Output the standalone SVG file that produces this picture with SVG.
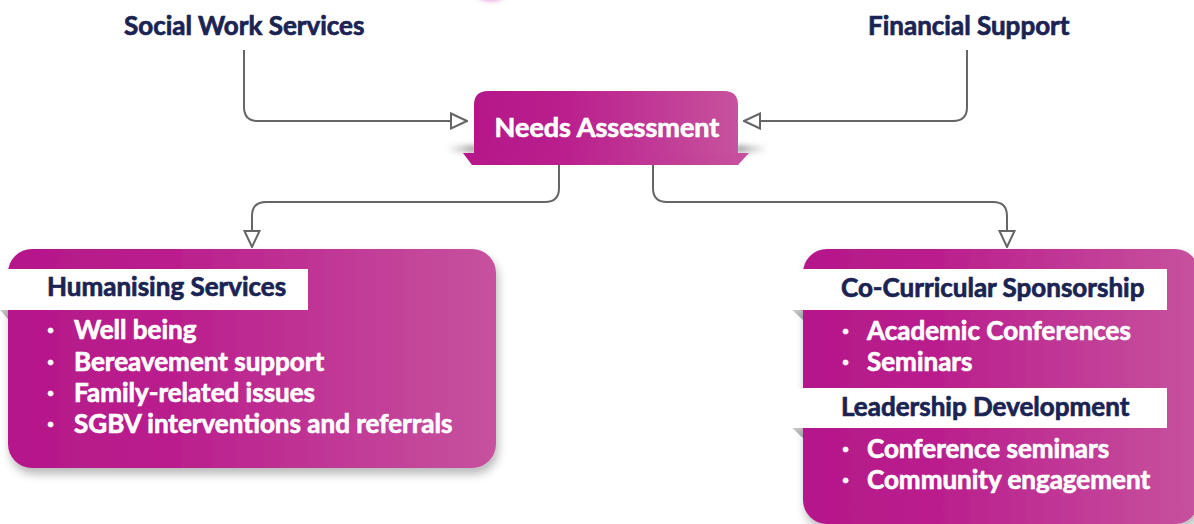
<svg xmlns="http://www.w3.org/2000/svg" width="1194" height="524" viewBox="0 0 1194 524">
  <defs>
    <linearGradient id="magenta" x1="0" y1="0" x2="1" y2="0">
      <stop offset="0" stop-color="#b5178a"/>
      <stop offset="0.35" stop-color="#ba1f8d"/>
      <stop offset="1" stop-color="#c7529e"/>
    </linearGradient>
    <linearGradient id="fold" x1="0" y1="0" x2="1" y2="1">
      <stop offset="0" stop-color="#d4d4d4"/>
      <stop offset="1" stop-color="#9a9a9a"/>
    </linearGradient>
    <linearGradient id="shade-left" x1="0" y1="0" x2="1" y2="0">
      <stop offset="0" stop-color="#bbbbbb" stop-opacity="0"/>
      <stop offset="1" stop-color="#9d9d9d"/>
    </linearGradient>
    <linearGradient id="shade-right" x1="0" y1="0" x2="1" y2="0">
      <stop offset="0" stop-color="#9d9d9d"/>
      <stop offset="1" stop-color="#bbbbbb" stop-opacity="0"/>
    </linearGradient>
    <filter id="drop" x="-10%" y="-10%" width="125%" height="130%">
      <feDropShadow dx="2" dy="6" stdDeviation="5" flood-color="#000" flood-opacity="0.28"/>
    </filter>
    <filter id="soft" x="-50%" y="-200%" width="200%" height="500%">
      <feGaussianBlur stdDeviation="2.5"/>
    </filter>
    <marker id="open-arrow" viewBox="0 0 18 18" refX="17" refY="9" markerWidth="18" markerHeight="18" markerUnits="userSpaceOnUse" orient="auto">
      <path d="M1,1.5 L17,9 L1,16.5 Z" fill="#fff" stroke="#666" stroke-width="2" stroke-linejoin="miter"/>
    </marker>
    <style>
      .label { font-family: Lato, "Liberation Sans", sans-serif; font-weight: 700; font-size: 26px; stroke-width: 0.7px; paint-order: stroke; }
      .navy { fill: #1a2352; stroke: #1a2352; }
      .white { fill: #ffffff; stroke: #ffffff; }
      .wire { fill: none; stroke: #666666; stroke-width: 2; marker-end: url(#open-arrow); }
      .tab { fill: #ffffff; }
      .fold { fill: url(#fold); }
    </style>
  </defs>

  <rect width="1194" height="524" fill="#ffffff"/>

  <!-- sliver of a shape above the frame -->
  <ellipse cx="491" cy="-9" rx="16" ry="10" fill="#e89ad6" filter="url(#soft)"/>

  <!-- top source labels -->
  <g id="social-work">
    <text class="label navy" x="124" y="35">Social Work Services</text>
  </g>
  <g id="financial-support">
    <text class="label navy" x="868" y="35">Financial Support</text>
  </g>

  <!-- connectors -->
  <g id="connectors">
    <path class="wire" d="M244,50 V107 Q244,121 258,121 H467"/>
    <path class="wire" d="M967,50 V107 Q967,121 953,121 H744"/>
    <path class="wire" d="M559,165 V188 Q559,202 545,202 H266 Q252,202 252,216 V247"/>
    <path class="wire" d="M653,165 V188 Q653,202 667,202 H993 Q1007,202 1007,216 V247"/>
  </g>

  <!-- central node -->
  <g id="needs-assessment">
    <rect x="446" y="145" width="30" height="8" fill="url(#shade-left)" filter="url(#soft)"/>
    <rect x="736" y="145" width="32" height="8" fill="url(#shade-right)" filter="url(#soft)"/>
    <path d="M463,153 H749 L738,165 H472 Z" fill="url(#magenta)"/>
    <path d="M474,154 V105 Q474,91 488,91 H724 Q738,91 738,105 V154 Z" fill="url(#magenta)"/>
    <text class="label white" x="607" y="137" text-anchor="middle" style="font-size:27px">Needs Assessment</text>
  </g>

  <!-- left card -->
  <g id="humanising-services">
    <rect x="8" y="249" width="488" height="219" rx="24" fill="url(#magenta)" filter="url(#drop)"/>
    <rect class="tab" x="0" y="269" width="308" height="41"/>
    <path class="fold" d="M0,310 H8 V319 Z"/>
    <text class="label navy" x="47" y="296">Humanising Services</text>
    <g class="label white">
      <text x="47" y="339">·</text><text x="74" y="339">Well being</text>
      <text x="47" y="370.5">·</text><text x="74" y="370.5">Bereavement support</text>
      <text x="47" y="402">·</text><text x="74" y="402">Family-related issues</text>
      <text x="47" y="433">·</text><text x="74" y="433">SGBV interventions and referrals</text>
    </g>
  </g>

  <!-- right card -->
  <g id="sponsorship-leadership">
    <rect x="803" y="249" width="396" height="275" rx="24" fill="url(#magenta)" filter="url(#drop)"/>
    <rect class="tab" x="792" y="269" width="375" height="41"/>
    <path class="fold" d="M792,310 H803 V320 Z"/>
    <text class="label navy" x="841" y="297">Co-Curricular Sponsorship</text>
    <g class="label white">
      <text x="842" y="340">·</text><text x="867" y="340">Academic Conferences</text>
      <text x="842" y="371">·</text><text x="867" y="371">Seminars</text>
    </g>
    <rect class="tab" x="792" y="388" width="375" height="40"/>
    <path class="fold" d="M792,428 H803 V438 Z"/>
    <text class="label navy" x="841" y="416">Leadership Development</text>
    <g class="label white">
      <text x="842" y="458">·</text><text x="867" y="458">Conference seminars</text>
      <text x="842" y="489">·</text><text x="867" y="489">Community engagement</text>
    </g>
  </g>
</svg>
